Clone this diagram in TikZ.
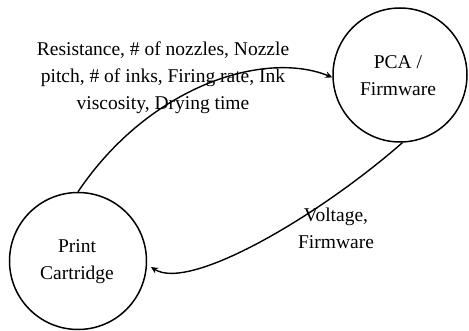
\documentclass[tikz,border=0pt]{standalone}
\usepackage{fontspec}
\setmainfont{Liberation Serif}
\usetikzlibrary{arrows.meta}
\tikzset{
  unit/.style={circle, draw, line width=1.5pt, inner sep=0pt},
  flow/.style={line width=1.4pt, -{Stealth[length=7pt,width=6.5pt]}},
  caption/.style={align=center, font=\fontsize{19.5}{27}\selectfont, inner sep=0pt},
}
\begin{document}
\begin{tikzpicture}[x=1pt,y=-1pt]
  \useasboundingbox (0,0) rectangle (469,331);
  % the two units
  \node[unit, minimum size=134pt] (pca) at (400,75) {};
  \node[unit, minimum size=137pt] (pc) at (78,261) {};
  \node[caption] (pcatxt) at (398,76) {PCA /\\Firmware};
  \node[caption] (pctxt) at (77,262) {Print\\Cartridge};
  % data passed from the cartridge to the board
  \draw[flow] (pc.90) .. controls (150,85) and (265,50) .. (pca.182);
  \node[caption] (up) at (163,78) {Resistance, \# of nozzles, Nozzle\\pitch, \# of inks, Firing rate, Ink\\viscosity, Drying time};
  % supply from the board back to the cartridge
  \draw[flow] (pca.272) .. controls (320,215) and (190,292) .. ([xshift=4pt]pc.-5);
  \node[caption] (down) at (336,228) {Voltage,\\Firmware};
\end{tikzpicture}
\end{document}
